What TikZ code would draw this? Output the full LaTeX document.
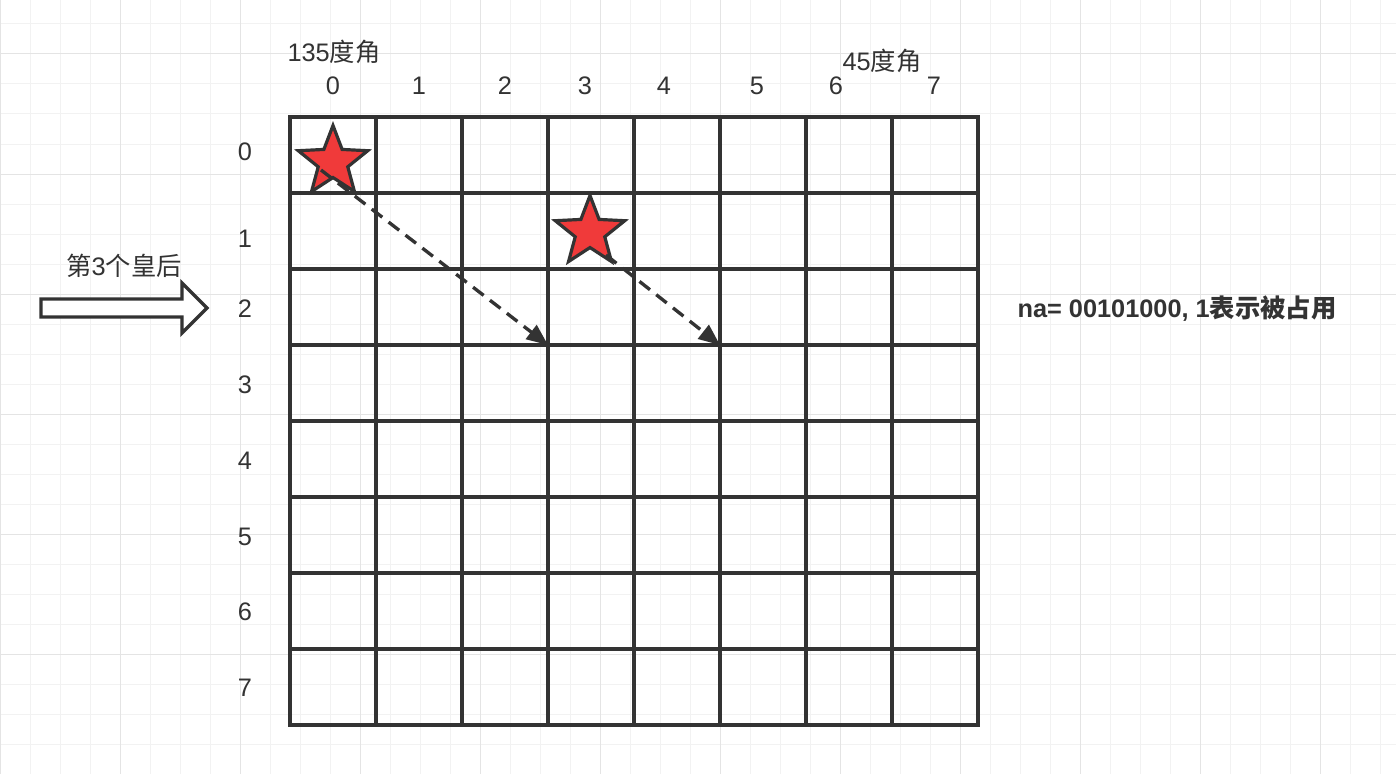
\documentclass[tikz,border=0pt]{standalone}
\usepackage{fontspec}
\setmainfont{Liberation Sans}
\newfontfamily\cjk{Noto Sans CJK SC}
\usetikzlibrary{shapes.geometric,arrows.meta}
\definecolor{ink}{HTML}{333333}
\definecolor{minorg}{HTML}{F2F2F2}
\definecolor{majorg}{HTML}{E4E4E4}
\definecolor{starred}{HTML}{F03A3A}
\tikzset{
  board/.style={ink, line width=2.6pt, line cap=rect},
  qstar/.style={star, star points=5, star point ratio=2.35, minimum size=54.75pt,
    inner sep=0pt, outer sep=0pt, fill=starred, draw=ink, line width=2.4pt},
  dasharrow/.style={ink, line width=2.5pt, dash pattern=on 10pt off 6pt,
    -{Triangle[length=16pt,width=13pt]}},
  blockarrow/.style={draw=ink, fill=white, line width=2.4pt, line join=miter},
  lab/.style={text=ink, font=\fontsize{19pt}{22pt}\selectfont, inner sep=0pt},
  labb/.style={text=ink, font=\fontsize{19pt}{22pt}\selectfont\bfseries, inner sep=0pt}
}
\begin{document}
\begin{tikzpicture}[x=0.75pt,y=-0.75pt]
\useasboundingbox (0,0) rectangle (1396,774);
\fill[white] (0,0) rectangle (1396,774);
% background paper grid
\foreach \x in {0,30,...,1380} \draw[minorg, line width=0.75pt] (\x+0.5,0) -- (\x+0.5,774);
\foreach \y in {24,54,...,774} \draw[minorg, line width=0.75pt] (0,\y) -- (1396,\y);
\foreach \x in {0,120,...,1320} \draw[majorg, line width=0.75pt] (\x+0.5,0) -- (\x+0.5,774);
\foreach \y in {54,174,...,774} \draw[majorg, line width=0.75pt] (0,\y) -- (1396,\y);
% board
\foreach \i in {0,...,8} {
  \draw[board] (290+86*\i,117) -- (290+86*\i,725);
  \draw[board] (290,117+76*\i) -- (978,117+76*\i);
}
\coordinate (c23) at (548,345);
\coordinate (c25) at (720,345);
% column labels
\node[lab] (col0) at (333,86) {0};
\node[lab] (col1) at (419,86) {1};
\node[lab] (col2) at (505,86) {2};
\node[lab] (col3) at (585,86) {3};
\node[lab] (col4) at (664,86) {4};
\node[lab] (col5) at (757,86) {5};
\node[lab] (col6) at (836,86) {6};
\node[lab] (col7) at (934,86) {7};
% row labels
\node[lab] (row0) at (245,152) {0};
\node[lab] (row1) at (245,239) {1};
\node[lab] (row2) at (245,309) {2};
\node[lab] (row3) at (245,385) {3};
\node[lab] (row4) at (245,461) {4};
\node[lab] (row5) at (245,537) {5};
\node[lab] (row6) at (245,612) {6};
\node[lab] (row7) at (245,688) {7};
% angle labels
\node[lab] (t135) at (334,52) {135{\cjk 度角}};
\node[lab] (t45) at (882,61) {45{\cjk 度角}};
% queens
\node[qstar] (s1) at (333,162) {};
\node[qstar] (s2) at (590,232) {};
\coordinate (a1) at (321,170);
\coordinate (a2) at (606,255);
\draw[dasharrow] (a1) -- (c23);
\draw[dasharrow] (a2) -- (c25);
% third queen arrow
\node[lab] (tq) at (124,266) {{\cjk 第}3{\cjk 个皇后}};
\draw[blockarrow] (41,299) -- (182,299) -- (182,283) -- (207,308) -- (182,333) -- (182,317) -- (41,317) -- cycle;
% note
\node[labb] (tna) at (1177,309) {na= 00101000, 1{\cjk 表示被占用}};
\end{tikzpicture}
\end{document}
